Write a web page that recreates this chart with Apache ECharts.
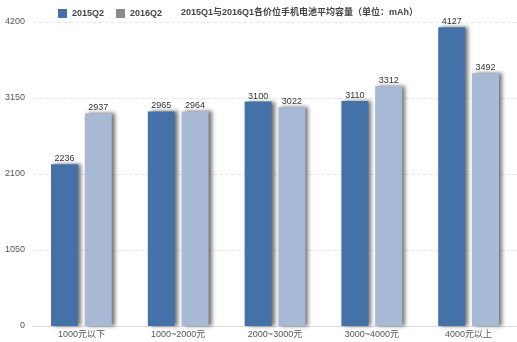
<!DOCTYPE html>
<html><head><meta charset="utf-8">
<script src="https://cdn.jsdelivr.net/npm/echarts@6/dist/echarts.min.js"></script>
<style>html,body{margin:0;padding:0;background:#fff}#c{width:517px;height:342px}</style>
</head><body><div id="c"></div>
<script>
const categories = ['1000元以下', '1000~2000元', '2000~3000元', '3000~4000元', '4000元以上'];
const s2015 = [2236, 2965, 3100, 3110, 4127];
const s2016 = [2937, 2964, 3022, 3312, 3492];
const seriesNames = ['2015Q2', '2016Q2'];
const titleText = '2015Q1与2016Q1各价位手机电池平均容量（单位：mAh）';

const chart = echarts.init(document.getElementById('c'));
const font = '"Liberation Sans", "Noto Sans CJK SC", sans-serif';
const labelCfg = {show: true, position: 'top', distance: 1, fontSize: 9, color: '#333', fontFamily: font};
const shadow = {shadowColor: 'rgba(0,0,0,0.55)', shadowBlur: 4, shadowOffsetX: 3, shadowOffsetY: 0};
chart.setOption({
  animation: false,
  title: {text: titleText, left: 176, top: 3, textStyle: {fontSize: 9, fontWeight: 'bold', color: '#444', fontFamily: font}},
  legend: {
    left: 53, top: 4, itemWidth: 9, itemHeight: 9, itemGap: 12, icon: 'rect',
    textStyle: {fontSize: 9, color: '#444', fontWeight: 'bold', fontFamily: font},
    data: [{name: seriesNames[0], itemStyle: {color: '#4472a8'}}, {name: seriesNames[1], itemStyle: {color: '#8a8a88'}}]
  },
  grid: {left: 33, right: -6, top: 22, bottom: 16, containLabel: false},
  xAxis: {
    type: 'category', data: categories,
    axisLine: {lineStyle: {color: '#ddd'}}, axisTick: {show: false},
    axisLabel: {fontSize: 9, color: '#555', margin: 4, fontFamily: font}
  },
  yAxis: {
    type: 'value', min: 0, max: 4200, interval: 1050,
    axisLine: {show: false}, axisTick: {show: false},
    axisLabel: {fontSize: 9, color: '#555', margin: 8, fontFamily: font, formatter: v => String(v)},
    splitLine: {lineStyle: {color: '#e6e6e6', type: 'dashed'}}
  },
  series: [
    {name: seriesNames[0], type: 'bar', data: s2015, barWidth: 27, barGap: '25%',
     itemStyle: Object.assign({color: '#4472a8'}, shadow), label: labelCfg},
    {name: seriesNames[1], type: 'bar', data: s2016, barWidth: 27,
     itemStyle: Object.assign({color: '#a8b9d6'}, shadow), label: labelCfg}
  ]
});
</script></body></html>
